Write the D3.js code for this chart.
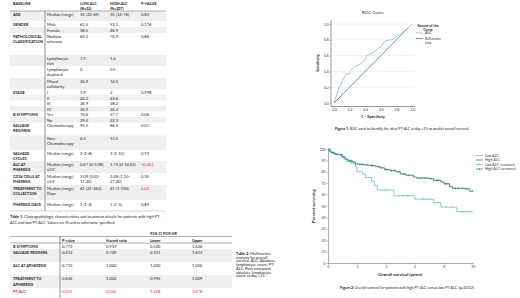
<!DOCTYPE html>
<html>
<head>
<meta charset="utf-8">
<script src="https://cdn.jsdelivr.net/npm/d3@7"></script>
<style>
  body { margin: 0; background: #fff; }
  svg { display: block; font-family: Lato, 'Liberation Sans', sans-serif; }
</style>
</head>
<body>
<svg id="chart" width="520" height="298"></svg>
<script>
// ---- Table 1 data ----
const t1Header = [['BASELINE'], [], ['LOW ALC', '(N=52)'], ['HIGH ALC', '(N=207)'], ['P-VALUE']];
const t1Labels = [['AGE'], ['GENDER'], [], ['PATHOLOGICAL', 'CLASSIFICATION'], [], [], [], ['STAGE'], [], [], [],
  ['B SYMPTOMS'], [], ['SALVAGE', 'REGIMEN'], [], ['SALVAGE', 'CYCLES'], ['ALC AT', 'PHERESIS'],
  ['CD34 CELLS AT', 'PHERESIS'], ['TREATMENT TO', 'COLLECTION'], ['PHERESIS DAYS']];
const t1Sub = [['Median (range)'], ['Male'], ['Female'], ['Nodular', 'sclerosis'], ['Lymphocyte', 'rich'],
  ['Lymphocyte', 'depleted'], ['Mixed', 'cellularity'], ['I'], ['II'], ['III'], ['IV'], ['Yes'], ['No'],
  ['Chemotherapy'], ['Non-', 'Chemotherapy'], ['Median (range)'], ['Median (range)', 'x10⁹'],
  ['Median (range)', 'x10⁶'], ['Median (range)', 'Days'], ['Median (range)']];
const t1Low = [['35 (20-69)'], ['61.5'], ['38.5'], ['69.2'], ['1.9'], ['0'], ['26.9'], ['1.9'], ['44.2'], ['26.9'],
  ['26.9'], ['70.6'], ['29.4'], ['95.5'], ['4.5'], ['2 (1-8)'], ['0.67 (0-5.98)'], ['3.09 (2.02-', '17.20)'],
  ['61 (21-262)'], ['1 (1-4)']];
const t1High = [['35 (14-76)'], ['53.1'], ['46.9'], ['74.9'], ['1.4'], ['0.5'], ['14.5'], ['2'], ['43.6'], ['28.2'],
  ['26.2'], ['57.7'], ['42.3'], ['86.5'], ['13.5'], ['2 (1-15)'], ['1.75 (0-14.62)'], ['3.48 (1.10-', '27.40)'],
  ['41 (1-194)'], ['1 (1-5)']];
const t1P = ['0.83', '0.176', '', '0.86', '', '', '', '0.998', '', '', '', '0.06', '', '0.07', '', '0.19',
  '<0.001', '0.35', '0.02', '0.89'];
const t1Significant = ['<0.001', '0.02'];

// ---- Table 2 data ----
const t2Header = ['', 'P-value', 'Hazard ratio', 'Lower', 'Upper'];
const t2Labels = [['B SYMPTOMS'], ['SALVAGE REGIMEN'], ['ALC AT APHERESIS'], ['TREATMENT TO', 'APHERESIS'], ['PT-ALC']];
const t2P = ['0.772', '0.412', '0.715', '0.624', '0.015'];
const t2HR = ['0.919', '0.709', '1.000', '1.002', '2.055'];
const t2Lower = ['0.520', '0.311', '1.000', '0.995', '1.148'];
const t2Upper = ['1.626', '1.613', '1.000', '1.009', '3.678'];

// ---- ROC data ----
const rocFpr = [0, 0.02, 0.05, 0.06, 0.09, 0.115, 0.14, 0.15, 0.2, 0.21, 0.24, 0.265, 0.31, 0.35, 0.38, 0.41, 0.42,
  0.47, 0.52, 0.56, 0.6, 0.63, 0.67, 0.735, 0.79, 0.83, 0.87, 0.9, 0.95, 1];
const rocTpr = [0, 0.06, 0.14, 0.19, 0.23, 0.29, 0.34, 0.37, 0.37, 0.41, 0.44, 0.46, 0.48, 0.5, 0.53, 0.56, 0.6,
  0.62, 0.65, 0.69, 0.71, 0.76, 0.79, 0.8, 0.83, 0.86, 0.89, 0.91, 0.95, 1];

// ---- Survival data (years, % surviving) ----
const lowTime = [0, 0.2, 0.5, 0.9, 1.1, 1.3, 1.6, 1.9, 2.0, 2.4, 2.6, 3.0, 3.2, 3.4, 4.55, 6.0, 7.3, 7.8, 8.9, 10];
const lowSurv = [100, 97, 95, 93, 91, 89, 87, 85, 80, 78, 75, 72, 68, 64, 59, 56, 53, 49, 45, 45];
const highTime = [0, 0.1, 0.2, 0.35, 0.5, 0.8, 1.0, 1.2, 1.4, 1.7, 1.9, 2.1, 2.5, 2.9, 3.3, 3.6, 3.9, 4.3, 4.7,
  5.0, 5.4, 5.9, 6.1, 7.0, 7.3, 7.8, 8.0, 8.4, 8.6, 9.5, 9.8, 10];
const highSurv = [100, 98, 97, 96, 95.5, 95, 93, 91, 89.5, 88.5, 87, 86.5, 86, 85.5, 84.5, 83.5, 82, 81, 80,
  78, 77, 75.5, 74.5, 74, 72.5, 71, 69.5, 67, 65.5, 65, 63, 63];
const lowCensor = [0.7, 1.2, 3.9, 4.1, 4.9, 5.2, 5.5, 6.6, 7.0, 7.6, 8.2, 8.5, 9.2, 9.5, 9.8];
const highCensor = [0.3, 0.6, 0.9, 1.1, 1.5, 1.6, 1.8, 2.2, 2.4, 2.7, 3.0, 3.1, 3.5, 3.7, 4.0, 4.1, 4.4, 4.6, 4.9,
  5.2, 5.3, 5.6, 6.3, 6.5, 6.7, 6.9, 7.1, 7.5, 7.6, 8.1, 8.2, 8.8, 9.0, 9.3, 9.6, 10];
const kmSeries = ['Low ALC', 'High ALC', 'Low ALC-censored', 'High ALC-censored'];

const LIGHT = '#72bfec';
const TEAL = '#2e7f77';
const SHADE = '#efefef';
const RED = '#ff2020';

const svg = d3.select('#chart');
svg.append('rect').attr('width', 520).attr('height', 298).attr('fill', '#fff');

// multi-line text helper
function addLines(g, x, y, arr, step, attrs = {}) {
  const t = g.append('text').attr('x', x).attr('y', y);
  Object.entries(attrs).forEach(([k, v]) => t.attr(k, v));
  arr.forEach((s, i) => t.append('tspan').attr('x', x).attr('dy', i === 0 ? 0 : step).text(s));
  return t;
}

// =================== TABLE 1 ===================
const t1 = svg.append('g').attr('font-size', 4.1).attr('fill', '#222');
const t1Cols = [13, 47, 80, 110, 141];
const t1RowH = [10, 6, 6, 22, 11, 12, 11, 6, 5.5, 5.5, 5.5, 5.5, 5.5, 13, 14.5, 11, 12, 12, 15, 11];
const t1Top = 11;
const t1Y = [t1Top, ...d3.cumsum(t1RowH).map(v => v + t1Top)];

t1RowH.forEach((h, i) => {
  if (i % 2 === 0) t1.append('rect').attr('x', 10).attr('y', t1Y[i]).attr('width', 156).attr('height', h).attr('fill', SHADE);
});
t1Header.forEach((h, c) => addLines(t1, t1Cols[c], 5, h, 4.5, { 'font-weight': 'bold', 'font-size': 3.8 }));
t1.append('line').attr('x1', 10).attr('x2', 166).attr('y1', t1Top).attr('y2', t1Top).attr('stroke', '#9a9a9a').attr('stroke-width', 0.8);
t1.append('line').attr('x1', 45).attr('x2', 45).attr('y1', t1Top).attr('y2', t1Y[t1Y.length - 1]).attr('stroke', '#888').attr('stroke-width', 0.9);
t1.append('line').attr('x1', 10).attr('x2', 166).attr('y1', t1Y[t1Y.length - 1]).attr('y2', t1Y[t1Y.length - 1]).attr('stroke', '#bbb').attr('stroke-width', 0.6);

t1RowH.forEach((h, i) => {
  const by = t1Y[i] + (i === t1RowH.length - 1 ? 6 : 4.5);
  addLines(t1, t1Cols[0], by, t1Labels[i], 5.3, { 'font-weight': 'bold', 'font-size': 3.8 });
  addLines(t1, t1Cols[1], by, t1Sub[i], 5.3);
  addLines(t1, t1Cols[2], by, t1Low[i], 5.3);
  addLines(t1, t1Cols[3], by, t1High[i], 5.3);
  addLines(t1, t1Cols[4], by, [t1P[i]], 5.3, { fill: t1Significant.includes(t1P[i]) ? RED : '#222' });
});

// caption
const cap1 = svg.append('g').attr('font-size', 3.9).attr('fill', '#222');
const c1 = cap1.append('text').attr('x', 10).attr('y', 218);
c1.append('tspan').attr('font-weight', 'bold').text('Table 1: ');
c1.append('tspan').text('Clinicopathologic characteristics and treatment details for patients with high PT-');
cap1.append('text').attr('x', 10).attr('y', 223.5).text('ALC and low PT-ALC. Values are N unless otherwise specified.');
cap1.append('line').attr('x1', 26).attr('x2', 55).attr('y1', 219).attr('y2', 219)
  .attr('stroke', '#e06060').attr('stroke-width', 0.4).attr('stroke-dasharray', '0.8,0.5');

// =================== TABLE 2 ===================
const t2 = svg.append('g').attr('font-size', 4.1).attr('fill', '#222');
const t2Cols = [13, 62, 106, 150, 192];
const t2RowH = [6, 13, 13, 13, 10];
const t2Top = 243;
const t2Y = [t2Top, ...d3.cumsum(t2RowH).map(v => v + t2Top)];

t2RowH.forEach((h, i) => {
  if (i % 2 === 1) t2.append('rect').attr('x', 10).attr('y', t2Y[i]).attr('width', 222).attr('height', h).attr('fill', SHADE);
});
t2.append('text').attr('x', 150).attr('y', 234.5).attr('font-weight', 'bold').attr('font-size', 3.8).text('95% CI FOR HR');
[236.5, t2Top].forEach(y => t2.append('line').attr('x1', 10).attr('x2', 232).attr('y1', y).attr('y2', y)
  .attr('stroke', '#9a9a9a').attr('stroke-width', 0.8));
t2Header.forEach((h, c) => t2.append('text').attr('x', t2Cols[c]).attr('y', 241.5).attr('font-weight', 'bold').attr('font-size', 3.8).text(h));
t2.append('line').attr('x1', 60).attr('x2', 60).attr('y1', 236.5).attr('y2', 298).attr('stroke', '#888').attr('stroke-width', 0.9);

t2RowH.forEach((h, i) => {
  const by = t2Y[i] + (h > 8 ? 5 : 4.5);
  const col = i === t2RowH.length - 1 ? RED : '#222';
  addLines(t2, t2Cols[0], by, t2Labels[i], 5.5, { 'font-weight': 'bold', 'font-size': 3.8, fill: col === RED ? RED : '#222' });
  [t2P, t2HR, t2Lower, t2Upper].forEach((arr, c) =>
    t2.append('text').attr('x', t2Cols[c + 1]).attr('y', by).attr('fill', col).text(arr[i]));
});

const cap2 = svg.append('g').attr('font-size', 3.9).attr('fill', '#222');
const cap2Lines = ['Multivariate', 'analysis for overall', 'survival. ALC: Absolute', 'lymphocyte count. PT-',
  'ALC: Post-transplant', 'absolute lymphocyte', 'count at day +15.'];
const c2 = cap2.append('text').attr('x', 236).attr('y', 255);
cap2Lines.forEach((s, i) => {
  const ts = c2.append('tspan').attr('x', 236).attr('dy', i === 0 ? 0 : 3.7);
  if (i === 0) { ts.append('tspan').attr('font-weight', 'bold').text('Table 2: '); ts.append('tspan').text(s); }
  else ts.text(s);
});

// =================== ROC CURVE ===================
const roc = svg.append('g');
const rx = d3.scaleLinear().domain([0, 1]).range([334, 412]);
const ry = d3.scaleLinear().domain([0, 1]).range([103, 24]);
const rocTicks = d3.range(0, 1.01, 0.2);

roc.append('text').attr('x', 373).attr('y', 13.5).attr('text-anchor', 'middle').attr('font-size', 4.4).attr('fill', '#222').text('ROC Curve');

roc.selectAll('.grid').data(rocTicks.slice(1)).enter().append('line')
  .attr('x1', 331).attr('x2', 414).attr('y1', d => ry(d)).attr('y2', d => ry(d))
  .attr('stroke', '#cfcfcf').attr('stroke-width', 0.5).attr('stroke-dasharray', '0.8,0.8');

const ryAxis = roc.append('g').attr('transform', 'translate(331,0)')
  .call(d3.axisLeft(ry).tickValues(rocTicks).tickFormat(d3.format('.1f')).tickSize(1.2).tickPadding(1.2));
const rxAxis = roc.append('g').attr('transform', 'translate(0,106.5)')
  .call(d3.axisBottom(rx).tickValues(rocTicks).tickFormat(d3.format('.1f')).tickSize(1.2).tickPadding(1.2));
[ryAxis, rxAxis].forEach(a => {
  a.select('.domain').remove();
  a.selectAll('text').attr('font-size', 3.4).attr('fill', '#333').attr('font-family', 'Lato, sans-serif');
  a.selectAll('line').attr('stroke', '#666').attr('stroke-width', 0.5);
});
roc.append('line').attr('x1', 331).attr('x2', 331).attr('y1', 20).attr('y2', 106.5).attr('stroke', '#555').attr('stroke-width', 0.6);
roc.append('line').attr('x1', 331).attr('x2', 415).attr('y1', 106.5).attr('y2', 106.5).attr('stroke', '#555').attr('stroke-width', 0.6);

roc.append('line').attr('x1', rx(0)).attr('y1', ry(0)).attr('x2', rx(1)).attr('y2', ry(1))
  .attr('stroke', '#4a9a8e').attr('stroke-width', 0.9);
roc.append('path').datum(d3.zip(rocFpr, rocTpr))
  .attr('d', d3.line().x(d => rx(d[0])).y(d => ry(d[1])))
  .attr('fill', 'none').attr('stroke', '#86c4ef').attr('stroke-width', 0.9);

roc.append('text').attr('transform', 'translate(319,63) rotate(-90)').attr('text-anchor', 'middle')
  .attr('font-size', 3.8).attr('font-weight', 'bold').attr('fill', '#222').text('Sensitivity');
roc.append('text').attr('x', 373).attr('y', 118).attr('text-anchor', 'middle')
  .attr('font-size', 3.8).attr('font-weight', 'bold').attr('fill', '#222').text('1 – Specificity');

// legend
const rl = roc.append('g').attr('font-size', 3.6).attr('fill', '#222');
addLines(rl, 428, 26.5, ['Source of the', 'Curve'], 4, { 'text-anchor': 'middle', 'font-weight': 'bold' });
rl.append('line').attr('x1', 416).attr('x2', 423).attr('y1', 33).attr('y2', 33).attr('stroke', '#86c4ef').attr('stroke-width', 0.9);
rl.append('text').attr('x', 425).attr('y', 34.3).text('ALC');
rl.append('line').attr('x1', 416).attr('x2', 423).attr('y1', 38.5).attr('y2', 38.5).attr('stroke', '#4a9a8e').attr('stroke-width', 0.9);
addLines(rl, 425, 39.6, ['Reference', 'Line'], 4);

const f1 = svg.append('text').attr('x', 335).attr('y', 129.5).attr('font-size', 3.6).attr('fill', '#222');
f1.append('tspan').attr('font-weight', 'bold').text('Figure 1: ');
f1.append('tspan').text('ROC used to identify the ideal PT-ALC at day +15 to predict overall survival.');

// =================== SURVIVAL CURVE ===================
const km = svg.append('g');
const kx = d3.scaleLinear().domain([0, 10]).range([328, 472.7]);
const ky = d3.scaleLinear().domain([0, 100]).range([263, 149]);

const kyAxis = km.append('g').attr('transform', 'translate(328,0)')
  .call(d3.axisLeft(ky).tickValues(d3.range(0, 101, 10)).tickSize(1.5).tickPadding(1.2).tickSizeOuter(0));
const kxAxis = km.append('g').attr('transform', 'translate(0,263)')
  .call(d3.axisBottom(kx).tickValues(d3.range(0, 11, 2)).tickSize(1.5).tickPadding(1.2).tickSizeOuter(0));
[kyAxis, kxAxis].forEach(a => {
  a.select('.domain').attr('stroke', '#777').attr('stroke-width', 0.6);
  a.selectAll('text').attr('font-size', 3.3).attr('fill', '#444').attr('font-family', 'Lato, sans-serif');
  a.selectAll('line').attr('stroke', '#777').attr('stroke-width', 0.5);
});

const step = d3.line().curve(d3.curveStepAfter).x(d => kx(d[0])).y(d => ky(d[1]));
const lowData = d3.zip(lowTime, lowSurv);
const highData = d3.zip(highTime, highSurv);
km.append('path').datum(lowData).attr('d', step).attr('fill', 'none').attr('stroke', LIGHT).attr('stroke-width', 0.9);
km.append('path').datum(highData).attr('d', step).attr('fill', 'none').attr('stroke', TEAL).attr('stroke-width', 0.9);

const bis = d3.bisector(d => d[0]).right;
function survAt(data, t) { return data[Math.max(0, bis(data, t) - 1)][1]; }
[[lowCensor, lowData, LIGHT], [highCensor, highData, TEAL]].forEach(([cens, data, col]) => {
  km.selectAll(null).data(cens).enter().append('line')
    .attr('x1', d => kx(d)).attr('x2', d => kx(d))
    .attr('y1', d => ky(survAt(data, d)) - 1.1).attr('y2', d => ky(survAt(data, d)) + 1.1)
    .attr('stroke', col).attr('stroke-width', 0.6);
});

km.append('text').attr('transform', 'translate(315,206) rotate(-90)').attr('text-anchor', 'middle')
  .attr('font-size', 4.4).attr('font-weight', 'bold').attr('fill', '#222').text('Percent surviving');
km.append('text').attr('x', 400).attr('y', 275.5).attr('text-anchor', 'middle')
  .attr('font-size', 4.4).attr('font-weight', 'bold').attr('fill', '#222').text('Overall survival (years)');

const kl = km.append('g').attr('font-size', 3.6).attr('fill', '#333');
kmSeries.forEach((name, i) => {
  const y = 155.5 + i * 4.5;
  const col = i % 2 === 0 ? LIGHT : TEAL;
  kl.append('line').attr('x1', 476).attr('x2', 483).attr('y1', y).attr('y2', y).attr('stroke', col).attr('stroke-width', 0.8);
  if (i >= 2) kl.append('line').attr('x1', 479.5).attr('x2', 479.5).attr('y1', y - 1.1).attr('y2', y + 1.1).attr('stroke', col).attr('stroke-width', 0.6);
  kl.append('text').attr('x', 485).attr('y', y + 1.3).text(name);
});

const f2 = svg.append('text').attr('x', 340).attr('y', 288.5).attr('font-size', 3.6).attr('fill', '#222');
f2.append('tspan').attr('font-weight', 'bold').text('Figure 2: ');
f2.append('tspan').text('Overall survival for patients with high PT-ALC versus low PT-ALC. (p=0.012)');
</script>
</body>
</html>
